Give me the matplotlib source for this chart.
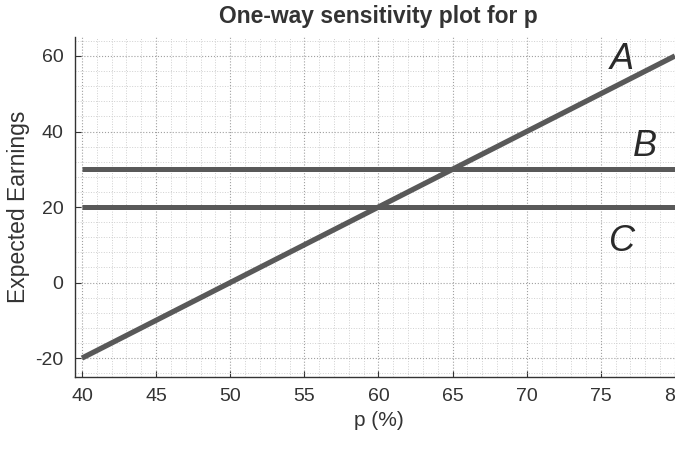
import matplotlib
matplotlib.use("Agg")
import matplotlib.pyplot as plt
from matplotlib.ticker import MultipleLocator

plt.rcParams['font.family'] = ['Liberation Sans', 'DejaVu Sans']
plt.rcParams['axes.unicode_minus'] = False

# --- Daten ---
p_values = [40, 80]
earn_a = [-20, 60]
earn_b = [30, 30]
earn_c = [20, 20]
labels = ["A", "B", "C"]
label_x = [76.4, 78.0, 76.4]
label_y = [59, 36, 11]

x_ticks = [40, 45, 50, 55, 60, 65, 70, 75, 80]
y_ticks = [-20, 0, 20, 40, 60]

fig = plt.figure(figsize=(6.75, 4.49), dpi=100)
ax = fig.add_axes([0.1105, 0.1604, 0.9004, 0.757])

line_col = "#595959"
ax.plot(p_values, earn_b, color=line_col, linewidth=3.6, solid_capstyle="butt")
ax.plot(p_values, earn_c, color=line_col, linewidth=3.6, solid_capstyle="butt")
ax.plot(p_values, earn_a, color=line_col, linewidth=3.8, solid_capstyle="butt")

# handschriftliche Beschriftungen
for lab, lx, ly in zip(labels, label_x, label_y):
    ax.text(lx, ly, lab, fontsize=26, color="#2a2a2a", ha="center", va="center",
            style="italic")

ax.set_xlim(39.5, 80.5)
ax.set_ylim(-25, 65)
ax.set_xticks(x_ticks)
ax.set_yticks(y_ticks)
ax.xaxis.set_minor_locator(MultipleLocator(1))
ax.yaxis.set_minor_locator(MultipleLocator(4))

ax.grid(True, which="major", linestyle=":", color="#a0a0a0", linewidth=0.8)
ax.grid(True, which="minor", linestyle=":", color="#d0d0d0", linewidth=0.7)

ax.tick_params(which="major", direction="in", length=4, width=0.8, labelsize=14,
               colors="#333333", pad=8)
ax.tick_params(which="minor", length=0)
for s in ["top", "right"]:
    ax.spines[s].set_visible(False)
for s in ["left", "bottom"]:
    ax.spines[s].set_color("#333333")
    ax.spines[s].set_linewidth(1.0)

ax.set_title("One-way sensitivity plot for p", fontsize=16.5, fontweight="bold",
             color="#333333", pad=10)
ax.set_xlabel("p (%)", fontsize=15, color="#333333", labelpad=4)
ax.set_ylabel("Expected Earnings", fontsize=16.5, color="#333333")
ax.yaxis.set_label_coords(-0.073, 0.5)

fig.savefig("out.png", dpi=100)
